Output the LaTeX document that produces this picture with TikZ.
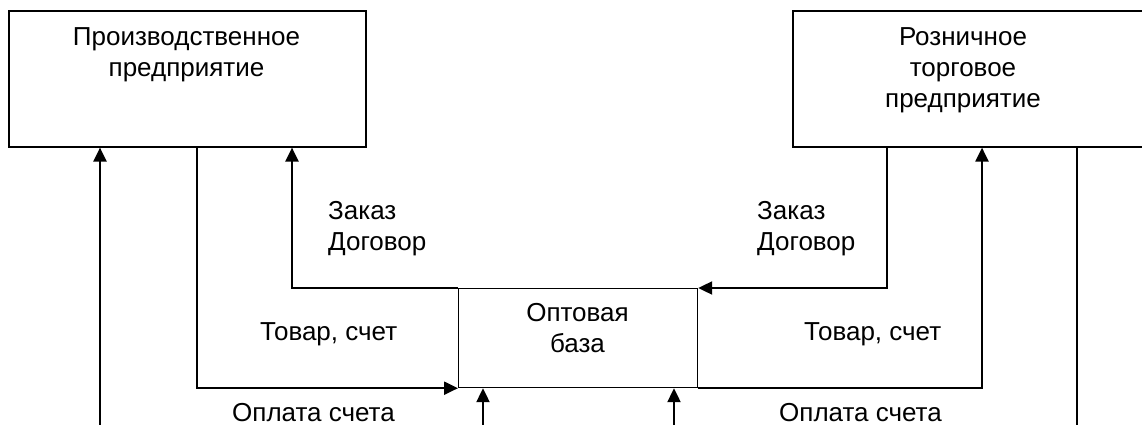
\documentclass[tikz,border=0pt]{standalone}
\usepackage{fontspec}
\setmainfont{Liberation Sans}
\usetikzlibrary{arrows.meta}
\begin{document}
\begin{tikzpicture}[x=1pt,y=-1pt,
  txt/.style={inner sep=0pt, font=\fontsize{26}{31}\selectfont},
  bigbox/.style={draw, line width=1.6pt, minimum width=357pt, minimum height=136pt,
    anchor=north west, inner sep=0pt},
  midbox/.style={draw, line width=1.2pt, minimum width=239pt, minimum height=99pt,
    anchor=north west, inner sep=0pt},
  flow/.style={line width=2.2pt, -{Triangle[length=14pt,width=13pt]}},
  plainline/.style={line width=2.2pt}]
\useasboundingbox (0,0) rectangle (1142,425);

% enterprises and the wholesale base
\node[bigbox] (prod) at (8,10) {};
\node[bigbox] (retail) at (792,10) {};
\node[midbox] (whole) at (458,288) {};

% box captions
\node[txt, align=center, anchor=north] (prodlbl) at (186.5,23.3)
  {\strut Производственное\\\strut предприятие};
\node[txt, align=center, anchor=north] (retaillbl) at (963,23.3)
  {\strut Розничное\\\strut торговое\\\strut предприятие};
\node[txt, align=center, anchor=north] (wholelbl) at (577.5,299.8)
  {\strut Оптовая\\\strut база};

% free ends at the lower edge
\coordinate (payin) at (100,425);
\coordinate (w1) at (483,425);
\coordinate (w2) at (674,425);
\coordinate (payout) at (1077,425);

% flows between the enterprises
\draw[flow] (payin) -- (payin |- prod.south);
\draw[flow] ([xshift=189pt]prod.south west) |- (whole.south west);
\draw[flow] (whole.north west) -| ([xshift=284pt]prod.south west);
\draw[flow] ([xshift=95pt]retail.south west) |- (whole.north east);
\draw[flow] (whole.south east) -| ([xshift=190pt]retail.south west);
\draw[plainline] ([xshift=285pt]retail.south west) -- (payout);
\draw[flow] (w1) -- (w1 |- whole.south);
\draw[flow] (w2) -- (w2 |- whole.south);

% flow labels
\node[txt, align=left, anchor=north west] (order1) at (328,197.3)
  {\strut Заказ\\\strut Договор};
\node[txt, align=left, anchor=north west] (order2) at (757,197.3)
  {\strut Заказ\\\strut Договор};
\node[txt, anchor=base west] (goods1) at (260,340) {Товар, счет};
\node[txt, anchor=base west] (goods2) at (804,340) {Товар, счет};
\node[txt, anchor=base west] (pay1) at (232,421) {Оплата счета};
\node[txt, anchor=base west] (pay2) at (779,421) {Оплата счета};
\end{tikzpicture}
\end{document}
